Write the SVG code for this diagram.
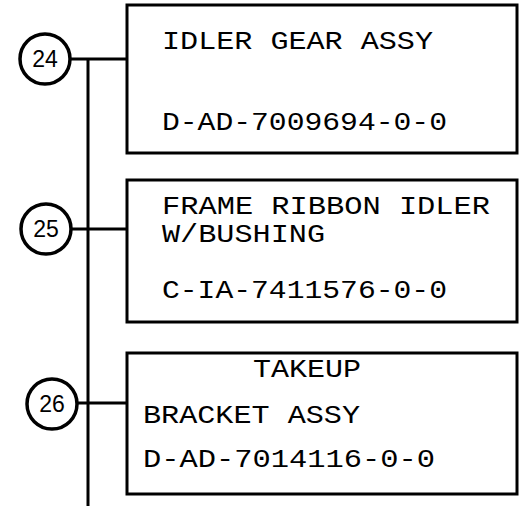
<svg xmlns="http://www.w3.org/2000/svg" width="523" height="506" viewBox="0 0 523 506">
<style>
.box{fill:#fff;stroke:#000;stroke-width:3}
.circ{fill:#fff;stroke:#000;stroke-width:3.5}
.ln{stroke:#000;stroke-width:3;fill:none}
.t{font-family:"Liberation Mono","Courier New",monospace;font-size:25px;fill:#000}
.n{font-family:"Liberation Sans",Arial,sans-serif;font-size:23px;fill:#000;text-anchor:middle}
</style>
<rect width="523" height="506" fill="#fff"/>
<g id="connectors">
<line class="ln" x1="88" y1="59" x2="88" y2="506"/>
<line class="ln" x1="70" y1="59" x2="127" y2="59"/>
<line class="ln" x1="71" y1="229" x2="127" y2="229"/>
<line class="ln" x1="78" y1="403" x2="127" y2="403"/>
</g>
<g id="node24">
<circle class="circ" cx="45" cy="59" r="25"/>
<text class="n" x="45" y="67">24</text>
</g>
<g id="node25">
<circle class="circ" cx="46" cy="229" r="25"/>
<text class="n" x="46" y="237">25</text>
</g>
<g id="node26">
<circle class="circ" cx="52" cy="404" r="25"/>
<text class="n" x="52" y="412">26</text>
</g>
<g id="box1">
<rect class="box" x="127" y="5" width="390" height="148"/>
<text class="t" x="162" y="49" textLength="271" lengthAdjust="spacingAndGlyphs">IDLER GEAR ASSY</text>
<text class="t" x="162" y="130" textLength="285" lengthAdjust="spacingAndGlyphs">D-AD-7009694-0-0</text>
</g>
<g id="box2">
<rect class="box" x="127" y="180" width="390" height="142"/>
<text class="t" x="162" y="214" textLength="328" lengthAdjust="spacingAndGlyphs">FRAME RIBBON IDLER</text>
<text class="t" x="162" y="242" textLength="163" lengthAdjust="spacingAndGlyphs">W/BUSHING</text>
<text class="t" x="162" y="298" textLength="285" lengthAdjust="spacingAndGlyphs">C-IA-7411576-0-0</text>
</g>
<g id="box3">
<rect class="box" x="127" y="353" width="390" height="141"/>
<text class="t" x="253" y="377" textLength="108" lengthAdjust="spacingAndGlyphs">TAKEUP</text>
<text class="t" x="143" y="423" textLength="217" lengthAdjust="spacingAndGlyphs">BRACKET ASSY</text>
<text class="t" x="143" y="467" textLength="292" lengthAdjust="spacingAndGlyphs">D-AD-7014116-0-0</text>
</g>
</svg>
